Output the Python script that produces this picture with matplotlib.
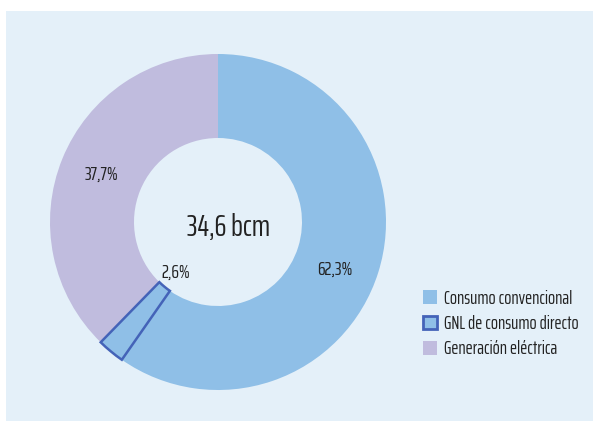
import numpy as np
import matplotlib
matplotlib.use("Agg")
import matplotlib.pyplot as plt
from matplotlib.patches import Patch

plt.rcParams['font.family'] = ['Saira ExtraCondensed', 'Saira Condensed', 'Liberation Sans Narrow', 'DejaVu Sans']

# data (% of total demand, GNL is a part of consumo convencional)
labels = ["Consumo convencional", "GNL de consumo directo", "Generación eléctrica"]
wedge_vals = [59.7, 2.6, 37.7]
shown_pct = ["62,3%", "2,6%", "37,7%"]
total_text = "34,6 bcm"

colors = ["#8fbfe7", "#8fbfe7", "#c0bcde"]
bg = "#e4f0f9"
txt = "#222222"

fig = plt.figure(figsize=(5.93, 4.21), dpi=100)
fig.patch.set_facecolor("white")
fig.patches.append(plt.Rectangle((6 / 593, 0), 1, 1 - 11 / 421, transform=fig.transFigure,
                                 facecolor=bg, edgecolor="none", zorder=-1))

ax = fig.add_axes([(218 - 168) / 593, (421 - 222 - 168) / 421, 336 / 593, 336 / 421])
ax.set_facecolor("none")
ax.set_zorder(2)

wedges, _ = ax.pie(wedge_vals, colors=colors, startangle=90, counterclock=False,
                   radius=1, wedgeprops=dict(width=0.5, edgecolor="none"))
wedges[1].set_edgecolor("#4463b8")
wedges[1].set_linewidth(1.8)
wedges[1].set_zorder(3)
ax.set_xlim(-1, 1)
ax.set_ylim(-1, 1)
ax.set_aspect("equal")
ax.axis("off")

# label positions from the data
conv_full = wedge_vals[0] + wedge_vals[1]
def pos(frac_mid, r):
    a = np.deg2rad(90 - frac_mid / 100 * 360)
    return r * np.cos(a), r * np.sin(a)

x, y = pos(conv_full / 2, 0.75)
ax.text(x, y, shown_pct[0], ha="center", va="center", fontsize=14, color=txt)
x, y = pos(conv_full + wedge_vals[2] / 2, 0.75)
ax.text(x, y, shown_pct[2], ha="center", va="center", fontsize=14, color=txt)
x, y = pos(wedge_vals[0] + wedge_vals[1] / 2, 0.47)
ax.text(x + 0.05, y + 0.06, shown_pct[1], ha="center", va="center", fontsize=14,
        color=txt, zorder=5)

ax.text(0.06, -0.03, total_text, ha="center", va="center", fontsize=22, color=txt)

handles = [Patch(facecolor=colors[0], edgecolor="none"),
           Patch(facecolor=colors[1], edgecolor="#4463b8", linewidth=2),
           Patch(facecolor=colors[2], edgecolor="none")]
fig.legend(handles, labels, loc="center left", bbox_to_anchor=(406 / 593, 1 - 324 / 421),
           frameon=False, fontsize=13.5, handlelength=0.75, handleheight=0.75,
           handletextpad=0.35, labelspacing=0.4, labelcolor=txt)

fig.savefig("out.png", dpi=100, facecolor="white")
